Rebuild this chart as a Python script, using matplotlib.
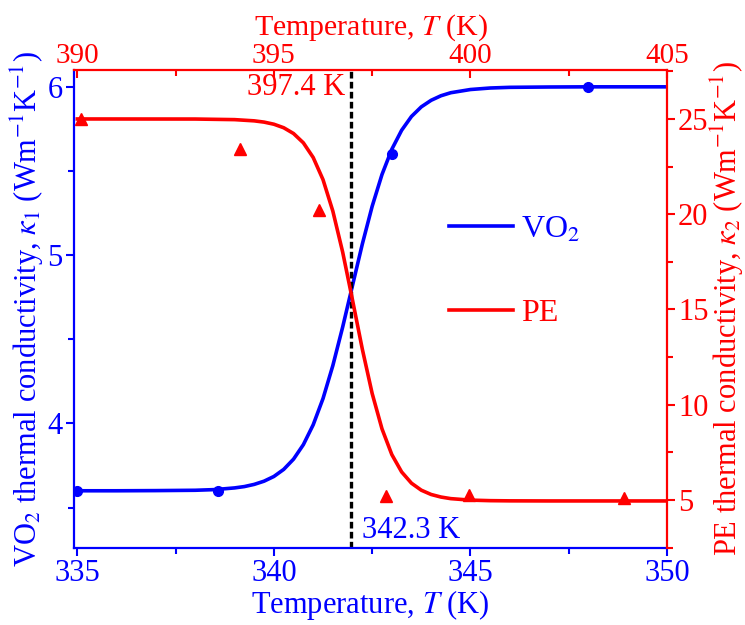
import matplotlib
matplotlib.use('Agg')
import matplotlib.pyplot as plt
from matplotlib.ticker import MultipleLocator

plt.rcParams['font.family'] = 'Liberation Serif'
plt.rcParams['mathtext.fontset'] = 'stix'

# VO2 curve (bottom axis, left axis)
t_vo2 = [335, 336, 337, 338, 338.5, 339, 339.25, 339.5, 339.75, 340, 340.25, 340.5, 340.75,
         341, 341.25, 341.5, 341.75, 342, 342.25, 342.5, 342.75, 343, 343.25, 343.5, 343.75,
         344, 344.25, 344.5, 345, 345.5, 346, 347, 348, 349, 350]
k_vo2 = [3.600, 3.600, 3.601, 3.603, 3.607, 3.617, 3.625, 3.638, 3.657, 3.685, 3.727, 3.788,
         3.874, 3.992, 4.148, 4.344, 4.573, 4.820, 5.066, 5.290, 5.479, 5.629, 5.742, 5.824,
         5.881, 5.920, 5.947, 5.965, 5.984, 5.993, 5.997, 5.999, 6.0, 6.0, 6.0]
t_vo2_pts = [335, 338.58, 343.0, 348.0]
k_vo2_pts = [3.6, 3.6, 5.6, 6.0]

# PE curve (top axis, right axis)
t_pe = [390, 393, 394, 394.5, 394.75, 395, 395.25, 395.5, 395.75, 396, 396.25, 396.5,
        396.75, 397, 397.25, 397.5, 397.75, 398, 398.25, 398.5, 398.75, 399, 399.25, 399.5,
        400, 400.5, 401, 402, 403, 404, 405]
k_pe = [25.0, 24.996, 24.965, 24.901, 24.835, 24.724, 24.539, 24.236, 23.747, 22.977, 21.814,
        20.162, 18.009, 15.496, 12.916, 10.592, 8.735, 7.384, 6.472, 5.882, 5.514, 5.289,
        5.155, 5.071, 4.993, 4.965, 4.955, 4.95, 4.95, 4.95, 4.95]
t_pe_pts = [390.1, 394.14, 396.14, 397.85, 399.96, 403.9]
k_pe_pts = [25.0, 23.4, 20.2, 5.2, 5.25, 5.1]

t_mark = 341.95
blue = '#0000ff'
red = '#ff0000'
fs_tick = 22
fs_lab = 22

fig = plt.figure(figsize=(7.45, 6.25), dpi=100)
rect = [0.0993, 0.1232, 0.7960, 0.7648]
ax = fig.add_axes(rect)
ax2 = fig.add_axes(rect, facecolor='none')

ax.plot(t_vo2, k_vo2, color=blue, lw=2.6, label='VO$_2$')
ax.plot(t_vo2_pts, k_vo2_pts, 'o', color=blue, ms=7)
ax.axvline(t_mark, color='k', ls=(0, (2.0, 1.0)), lw=2.4)
ax.set_xlim(334.915, 350)
ax.set_ylim(3.26, 6.1)

ax2.plot(t_pe, k_pe, color=red, lw=2.6, label='PE')
ax2.plot(t_pe_pts, k_pe_pts, '^', color=red, ms=8)
ax2.set_xlim(389.915, 405)
ax2.set_ylim(2.48, 27.57)

# spines and ticks
for s in ['top', 'right']:
    ax.spines[s].set_visible(False)
for s in ['left', 'bottom']:
    ax2.spines[s].set_visible(False)
for s in ['left', 'bottom']:
    ax.spines[s].set_color(blue)
    ax.spines[s].set_linewidth(1.6)
for s in ['top', 'right']:
    ax2.spines[s].set_color(red)
    ax2.spines[s].set_linewidth(1.6)

ax.xaxis.set_major_locator(MultipleLocator(5))
ax.xaxis.set_minor_locator(MultipleLocator(2.5))
ax.yaxis.set_major_locator(MultipleLocator(1))
ax.yaxis.set_minor_locator(MultipleLocator(0.5))
ax.tick_params(which='both', colors=blue, width=1.5, labelsize=fs_tick, direction='out', pad=2)
ax.tick_params(which='major', length=6)
ax.tick_params(which='minor', length=4)

ax2.xaxis.tick_top()
ax2.yaxis.tick_right()
ax2.xaxis.set_label_position('top')
ax2.yaxis.set_label_position('right')
ax2.xaxis.set_major_locator(MultipleLocator(5))
ax2.xaxis.set_minor_locator(MultipleLocator(2.5))
ax2.yaxis.set_major_locator(MultipleLocator(5))
ax2.yaxis.set_minor_locator(MultipleLocator(2.5))
ax2.tick_params(which='both', colors=red, width=1.5, labelsize=fs_tick, pad=2)
ax2.tick_params(axis='x', which='both', direction='in', pad=1, labelsize=21)
ax2.tick_params(axis='y', which='both', direction='out')
ax2.tick_params(which='major', length=6)
ax2.tick_params(which='minor', length=4)

ax.set_xlabel('Temperature, $T$ (K)', color=blue, fontsize=fs_lab, labelpad=0)
ax.set_ylabel('VO$_2$ thermal conductivity, $\\kappa_1$ (Wm$^{-1}$K$^{-1}$)',
              color=blue, fontsize=fs_lab, labelpad=1)
ax2.set_xlabel('Temperature, $T$ (K)', color=red, fontsize=21.5, labelpad=6)
ax2.set_ylabel('PE thermal conductivity, $\\kappa_2$ (Wm$^{-1}$K$^{-1}$)',
               color=red, fontsize=fs_lab, labelpad=0)

ax2.text(396.81, 26.64, '397.4 K', color=red, fontsize=fs_tick, ha='right', va='center')
ax.text(342.24, 3.363, '342.3 K', color=blue, fontsize=fs_tick, ha='left', va='center')

h1, l1 = ax.get_legend_handles_labels()
h2, l2 = ax2.get_legend_handles_labels()
leg = ax2.legend(h1 + h2, l1 + l2, loc='center left', bbox_to_anchor=(0.632, 0.578),
                 frameon=False, fontsize=23, handlelength=2.0, labelspacing=1.7,
                 handletextpad=0.25, borderpad=0, borderaxespad=0)
leg.get_texts()[0].set_color(blue)
leg.get_texts()[1].set_color(red)

fig.savefig('out.png', dpi=100)
